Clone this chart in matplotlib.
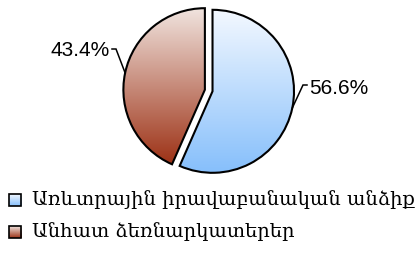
import matplotlib.pyplot as plt
import numpy as np
from matplotlib.colors import LinearSegmentedColormap
from matplotlib.patches import Rectangle

# Data
labels = ['Առևտրային իրավաբանական անձիք', 'Անհատ ձեռնարկատերեր']
shares = [56.6, 43.4]
pct_text = ['56.6%', '43.4%']
# gradient colours (top -> bottom) for each slice
grad_colors = [('#f3f8ff', '#86bffb'), ('#f1e5e0', '#9d3216')]

W, H = 419, 257
fig = plt.figure(figsize=(W / 100, H / 100), dpi=100)
ax = fig.add_axes([0, 0, 1, 1])

center = (208.7, H - 90.5)
radius = 81.5
# explode is in data units here (pixel-sized axes)
wedges, _ = ax.pie(shares, startangle=90, counterclock=False,
                   center=center, radius=radius, explode=[3.9, 3.9],
                   wedgeprops=dict(edgecolor='black', linewidth=1.5),
                   frame=True)
ax.set_xlim(0, W)
ax.set_ylim(0, H)
ax.set_aspect('equal')
ax.axis('off')

grad = np.linspace(0, 1, 256).reshape(-1, 1)
for w, (c_top, c_bot) in zip(wedges, grad_colors):
    cmap = LinearSegmentedColormap.from_list('g', [c_bot, c_top])
    ext = w.get_path().get_extents()
    w.set_facecolor('none')
    im = ax.imshow(grad, cmap=cmap, aspect='auto', origin='lower',
                   extent=[ext.x0, ext.x1, ext.y0, ext.y1], zorder=0.5)
    im.set_clip_path(w)

# percentage labels with leader lines
lab_pos = [(307, H - 85), (112, H - 49)]
for w, txt, (tx, ty) in zip(wedges, pct_text, lab_pos):
    ang = np.deg2rad((w.theta1 + w.theta2) / 2)
    cx, cy = w.center
    ex, ey = cx + w.r * np.cos(ang), cy + w.r * np.sin(ang)
    side = 1 if np.cos(ang) > 0 else -1
    ax.plot([ex, tx - side * 4, tx], [ey, ty, ty], color='black', lw=1.1,
            solid_joinstyle='miter', zorder=5)
    ax.text(tx + side * 2, ty - (3 if side > 0 else 1), txt,
            ha='left' if side > 0 else 'right',
            va='center', fontsize=15, family='Liberation Sans')

# legend
leg_y = [H - 200, H - 232]
for (c_top, c_bot), lab, y in zip(grad_colors, labels, leg_y):
    cmap = LinearSegmentedColormap.from_list('g', [c_bot, c_top])
    ax.imshow(grad, cmap=cmap, aspect='auto', origin='lower',
              extent=[9, 21, y - 6, y + 6], zorder=3)
    ax.add_patch(Rectangle((9, y - 6), 12, 12, facecolor='none',
                           edgecolor='black', lw=1.2, zorder=4))
    ax.text(32, y, lab, ha='left', va='center', fontsize=14.0,
            family='DejaVu Serif')

ax.set_xlim(0, W)
ax.set_ylim(0, H)
fig.savefig('out.png', dpi=100)
